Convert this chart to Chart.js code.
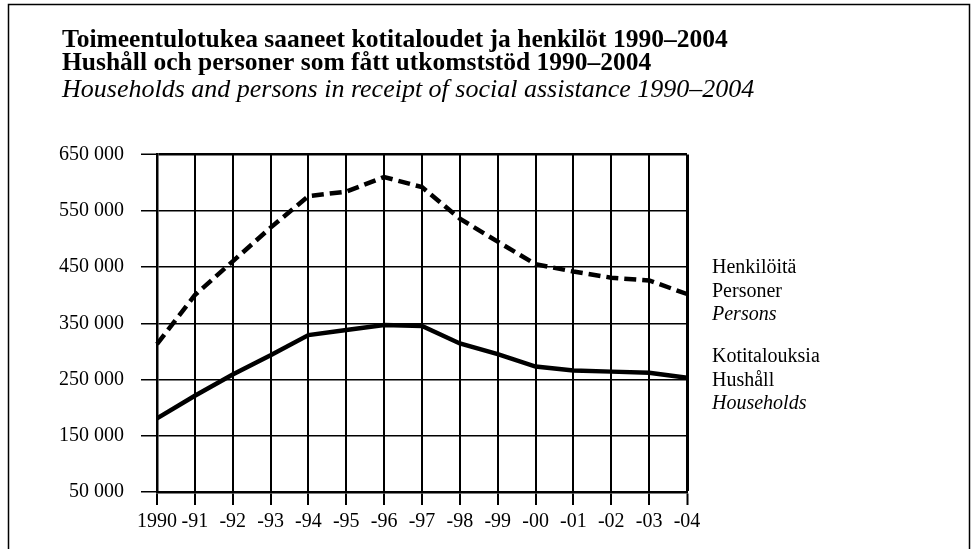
<!DOCTYPE html>
<html>
<head>
<meta charset="utf-8">
<script src="https://cdn.jsdelivr.net/npm/chart.js@4/dist/chart.umd.min.js"></script>
<style>
  html, body { margin: 0; padding: 0; background: #fff; }
  #wrap { width: 973px; height: 549px; position: relative; }
</style>
</head>
<body>
<div id="wrap"><canvas id="c" width="973" height="549"></canvas></div>
<script>
// ---- data ----
const years = ['1990','-91','-92','-93','-94','-95','-96','-97','-98','-99','-00','-01','-02','-03','-04'];
const persons = [313000, 400000, 460000, 520000, 576000, 584000, 610000, 592000, 536000, 495000, 455000, 442000, 431000, 426000, 402000];
const households = [181000, 221000, 259000, 293000, 329000, 338000, 347000, 345000, 314000, 295000, 273000, 266000, 264000, 262000, 253000];
const yTicks = [50000, 150000, 250000, 350000, 450000, 550000, 650000];
const yTickLabels = ['50 000', '150 000', '250 000', '350 000', '450 000', '550 000', '650 000'];
const titleLines = ['Toimeentulotukea saaneet kotitaloudet ja henkilöt 1990–2004', 'Hushåll och personer som fått utkomststöd 1990–2004'];
const subtitleLine = 'Households and persons in receipt of social assistance 1990–2004';
const personsLabel = ['Henkilöitä', 'Personer', 'Persons'];
const householdsLabel = ['Kotitalouksia', 'Hushåll', 'Households'];

const SERIF = "'Liberation Serif', 'Times New Roman', serif";

const framePlugin = {
  id: 'frame',
  afterDraw(chart) {
    const ctx = chart.ctx;
    ctx.save();
    ctx.strokeStyle = '#000';
    ctx.lineWidth = 1.5;
    ctx.strokeRect(8.5, 4.5, 961, 600);
    ctx.restore();
  }
};

const headingPlugin = {
  id: 'heading',
  afterDraw(chart) {
    const ctx = chart.ctx;
    ctx.save();
    ctx.fillStyle = '#000';
    ctx.textAlign = 'left';
    ctx.textBaseline = 'alphabetic';
    ctx.font = 'bold 25.5px ' + SERIF;
    ctx.fillText(titleLines[0], 62, 47);
    ctx.fillText(titleLines[1], 62, 70);
    ctx.font = 'italic 26px ' + SERIF;
    ctx.fillText(subtitleLine, 62, 97);
    ctx.restore();
  }
};

const seriesLabelPlugin = {
  id: 'seriesLabels',
  afterDraw(chart) {
    const ctx = chart.ctx;
    const x = chart.chartArea.right + 25;
    const blocks = [
      { lines: personsLabel, y: 268 },
      { lines: householdsLabel, y: 357 }
    ];
    ctx.save();
    ctx.fillStyle = '#000';
    ctx.textAlign = 'left';
    ctx.textBaseline = 'middle';
    blocks.forEach(b => {
      b.lines.forEach((t, i) => {
        ctx.font = (i === 2 ? 'italic ' : '') + '20px ' + SERIF;
        ctx.fillText(t, x, b.y + i * 23.5);
      });
    });
    ctx.restore();
  }
};

new Chart(document.getElementById('c'), {
  type: 'line',
  data: {
    labels: years,
    datasets: [
      {
        label: personsLabel.join(' / '),
        data: persons,
        borderColor: '#000',
        borderWidth: 4.5,
        borderDash: [12, 6],
        borderCapStyle: 'butt',
        pointRadius: 0,
        tension: 0,
        fill: false
      },
      {
        label: householdsLabel.join(' / '),
        data: households,
        borderColor: '#000',
        borderWidth: 4.5,
        pointRadius: 0,
        tension: 0,
        fill: false
      }
    ]
  },
  options: {
    responsive: false,
    animation: false,
    events: [],
    layout: { padding: { left: 30, right: 286, top: 154.5, bottom: 0 } },
    plugins: {
      legend: { display: false },
      tooltip: { enabled: false },
      title: { display: false },
      subtitle: { display: false }
    },
    scales: {
      x: {
        type: 'category',
        offset: false,
        grid: {
          color: '#000',
          lineWidth: (c) => (c.index === years.length - 1 ? 3 : 2),
          drawTicks: true,
          tickLength: 13,
          tickColor: '#000',
          tickWidth: 2
        },
        border: { display: true, color: '#000', width: 2.5 },
        ticks: {
          color: '#000',
          font: { family: SERIF, size: 20 },
          padding: 5,
          maxRotation: 0,
          autoSkip: false
        },
        afterFit(scale) { scale.height = 57; }
      },
      y: {
        min: 50000,
        max: 650000,
        afterBuildTicks(scale) { scale.ticks = yTicks.map(v => ({ value: v })); },
        grid: {
          color: '#000',
          lineWidth: (c) => (c.index === yTicks.length - 1 ? 2.5 : 1.5),
          drawTicks: true,
          tickLength: 16,
          tickColor: '#000',
          tickWidth: 1.5
        },
        border: { display: true, color: '#000', width: 2.5 },
        ticks: {
          color: '#000',
          font: { family: SERIF, size: 20 },
          padding: 17,
          callback: (v, i) => yTickLabels[i]
        },
        afterFit(scale) { scale.width = 127; }
      }
    }
  },
  plugins: [framePlugin, headingPlugin, seriesLabelPlugin]
});
</script>
</body>
</html>
